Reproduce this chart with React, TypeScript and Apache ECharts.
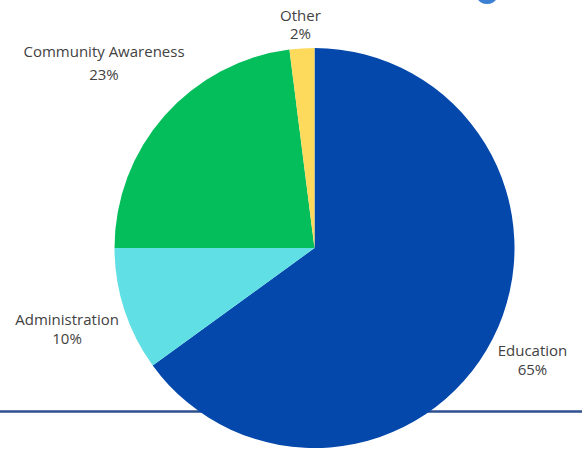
import React, { useEffect, useRef } from "react";
import * as echarts from "echarts";

const categories = ["Education", "Administration", "Community Awareness", "Other"];
const values = [65, 10, 23, 2];
const colors = ["#0448AB", "#60E0E5", "#04BE5C", "#FDDA5C"];
const lineHeights = [19, 19, 23, 18];

const CX = 314.5;
const CY = 248;
const R = 200;
const GAP = 5;

export default function App() {
  const ref = useRef<HTMLDivElement>(null);
  useEffect(() => {
    if (!ref.current) return;
    const chart = echarts.init(ref.current, undefined, { renderer: "svg" });
    const total = values.reduce((a, b) => a + b, 0);
    chart.setOption({
      animation: false,
      backgroundColor: "#ffffff",
      graphic: [
        {
          type: "line",
          z: 0,
          shape: { x1: 0, y1: 411.5, x2: 582, y2: 411.5 },
          style: { stroke: "#2E4F8E", lineWidth: 2.5 },
        },
        {
          type: "circle",
          z: 0,
          shape: { cx: 487, cy: -8, r: 12 },
          style: { fill: "#3B80D2" },
        },
      ],
      series: [
        {
          type: "pie",
          z: 5,
          center: [CX, CY],
          radius: R,
          startAngle: 90,
          clockwise: true,
          silent: true,
          avoidLabelOverlap: false,
          itemStyle: { borderWidth: 0 },
          label: {
            show: true,
            position: "outside",
            formatter: "{b}\n{c}%",
            fontFamily: "Open Sans",
            fontSize: 15,
            color: "#424242",
            align: "center",
            lineHeight: 19,
            overflow: "none",
            edgeDistance: 0,
          },
          labelLine: { show: false },
          labelLayout: (params: any) => {
            const i = params.dataIndex;
            let before = 0;
            for (let k = 0; k < i; k++) before += values[k];
            const mid = ((before + values[i] / 2) / total) * Math.PI * 2;
            const ux = Math.sin(mid);
            const uy = -Math.cos(mid);
            const w = params.labelRect.width;
            const h = params.labelRect.height;
            const ext = Math.abs(ux) * (w / 2) + Math.abs(uy) * (h / 2);
            const d = R + GAP + ext;
            return {
              x: CX + ux * d,
              y: CY + uy * d,
              align: "center",
              verticalAlign: "middle",
            };
          },
          data: categories.map((name, i) => ({
            name,
            value: values[i],
            itemStyle: { color: colors[i] },
            label: { lineHeight: lineHeights[i] },
          })),
        },
      ],
    });
    return () => chart.dispose();
  }, []);
  return (
    <div
      ref={ref}
      style={{ position: "absolute", left: 0, top: 0, width: 582, height: 449 }}
    />
  );
}
